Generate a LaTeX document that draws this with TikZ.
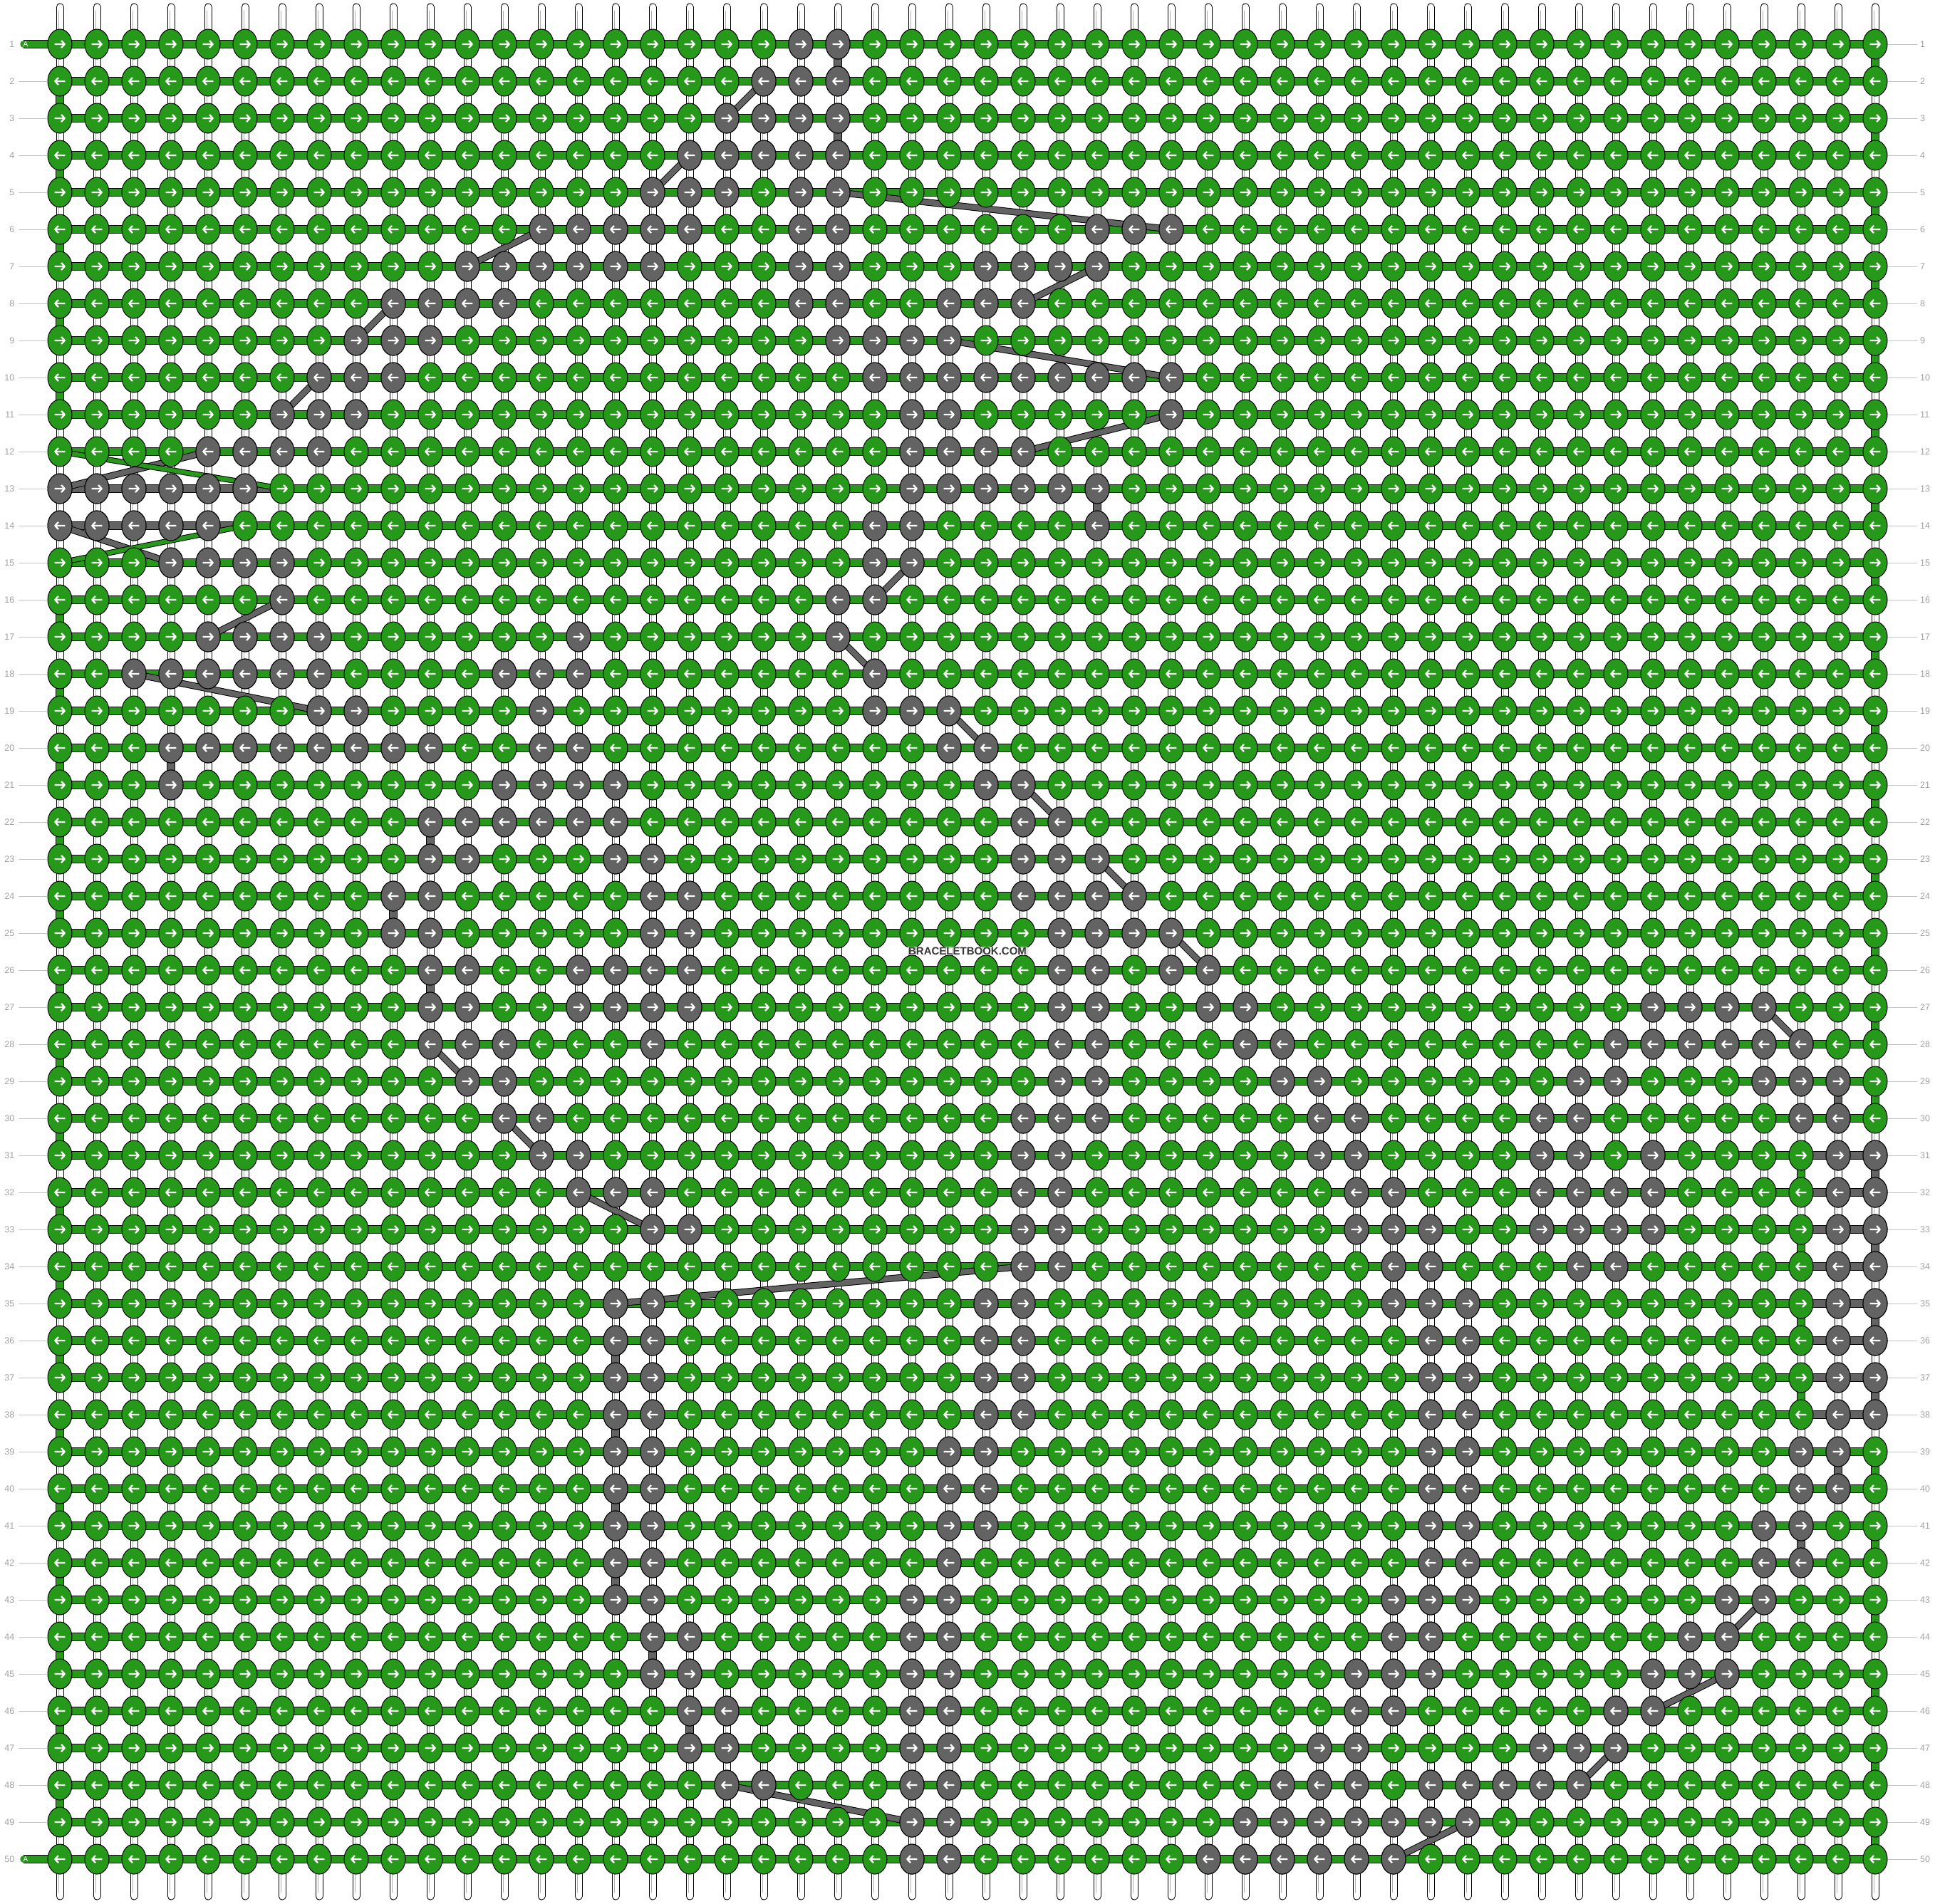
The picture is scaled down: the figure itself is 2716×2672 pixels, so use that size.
\documentclass[tikz,border=0pt]{standalone}
\usepackage{fontspec}
\setmainfont{Liberation Sans}
\usetikzlibrary{calc}

\definecolor{knotgreen}{RGB}{38,153,26}
\definecolor{knotgray}{RGB}{99,99,99}
\definecolor{numgray}{RGB}{160,160,160}
\definecolor{rulegray}{RGB}{195,195,195}
\definecolor{stringgray}{RGB}{175,175,175}
\definecolor{brandgray}{RGB}{55,55,55}

\begin{document}
\begin{tikzpicture}[x=1pt,y=-1pt,
    greenknot/.style={fill=knotgreen,draw=black,line width=1pt},
    grayknot/.style={fill=knotgray,draw=black,line width=1pt},
    arrowline/.style={draw=white,line width=2.3pt,line join=round},
    greenthread/.style={line width=9.5pt,draw=knotgreen,preaction={draw=black,line width=11.5pt}},
    graythread/.style={line width=9.5pt,draw=knotgray,preaction={draw=black,line width=11.5pt}},
    grayband/.style={line width=7.5pt,draw=knotgray,preaction={draw=black,line width=9.5pt}},
    greenband/.style={line width=6pt,draw=knotgreen,preaction={draw=black,line width=8pt}},
    rownum/.style={inner sep=0pt,text=numgray,font=\fontsize{12.5}{12.5}\selectfont},
    alabel/.style={inner sep=0pt,text=white,font=\fontsize{10}{10}\selectfont},
    numline/.style={draw=rulegray,line width=1pt},
    brand/.style={fill=white,fill opacity=0.7,text opacity=1,text=brandgray,inner sep=1pt,font=\bfseries\fontsize{15}{15}\selectfont}]
    \useasboundingbox (0,0) rectangle (2716,2672);

    % one unit = one knot: (column,row)
    \begin{scope}[x=52pt,y=-52pt,shift={(32pt,-10pt)}]
    % vertical strings
    \draw[line width=11pt,line cap=round] foreach \c in {1,...,50} {(\c,0) -- (\c,51)};
    \draw[white,line width=9pt,line cap=round] foreach \c in {1,...,50} {(\c,0) -- (\c,51)};
    \draw[stringgray,line width=4.6pt] foreach \c in {1,...,50} {(\c,0.1) -- (\c,50.9)};
    \draw[white,line width=3pt] foreach \c in {1,...,50} {(\c,0.1) -- (\c,50.9)};

    % horizontal thread
    \draw[greenthread] foreach \r in {1,...,50} {(1,\r) -- (50,\r)};
    \foreach \r/\ca/\cb in {13/1/7,14/1/6,31/48/50,32/48/50,33/48/50,34/48/50,35/48/50,36/48/50,37/48/50,38/48/50}
    \draw[graythread] (\ca,\r) -- (\cb,\r);

    \draw[greenthread] foreach \r in {1,3,...,29} {(50,\r) -- ++(0,1)};
    \draw[greenthread] foreach \r in {39,41,...,49} {(50,\r) -- ++(0,1)};
    \draw[greenthread] foreach \r in {31,33,35,37} {(48,\r) -- ++(0,1)};
    \draw[greenthread] foreach \r in {2,4,...,10} {(1,\r) -- ++(0,1)};
    \draw[greenthread] foreach \r in {16,18,...,48} {(1,\r) -- ++(0,1)};

    \foreach \c/\r in {22/1,22/3,29/13,4/20,11/22,10/24,11/26,49/29,50/31,50/33,50/35,16/36,50/37,16/38,49/39,16/40,48/41,16/42,17/44,18/46}
    \draw[graythread] (\c,\r) -- ++(0,1);

    % carried thread
    \foreach \ra/\ca/\rb/\cb in {2/20/3/19,4/18/5/17,5/22/6/31,6/14/7/12,7/29/8/27,8/10/9/9,9/25/10/31,10/8/11/7,11/31/12/27,12/5/13/1,14/1/15/4,15/24/16/23,16/7/17/5,17/22/18/23,18/3/19/8,19/25/20/26,21/27/22/28,23/29/24/30,25/31/26/32,27/47/28/48,28/11/29/12,30/13/31/14,32/15/33/17,34/27/35/16,43/47/44/46,45/46/46/44,47/43/48/42,48/19/49/24,49/39/50/37}
    \draw[grayband] (\ca,\ra) -- (\cb,\rb);
    \draw[greenband] (1,12) -- (7,13);
    \draw[greenband] (1,15) -- (6,14);

    \draw[greenthread,line cap=round] (0.0192,1) -- (1,1);
    \draw[greenthread,line cap=round] (0.0192,50) -- (1,50);
    \node[alabel] (a-top) at (0.077,1) {A};
    \node[alabel] (a-bot) at (0.077,50) {A};

    % knots
    \foreach \r in {1,...,50}
    \filldraw[greenknot] foreach \c in {1,...,50} {(\c,\r) ellipse [x radius=17pt,y radius=21pt]};

    \foreach \r/\cols in {1/{21,22},2/{20,21,22},3/{19,20,21,22},4/{18,19,20,21,22},5/{17,18,19,21,22},
      6/{14,15,16,17,18,21,22,29,30,31},7/{12,13,14,15,16,17,21,22,26,27,28,29},8/{10,11,12,13,21,22,25,26,27},
      9/{9,10,11,22,23,24,25},10/{8,9,10,23,24,25,26,27,28,29,30,31},11/{7,8,9,24,25,31},12/{5,6,7,8,24,25,26,27},
      13/{1,2,3,4,5,6,24,25,26,27,28,29},14/{1,2,3,4,5,23,24,29},15/{4,5,6,7,23,24},16/{7,22,23},17/{5,6,7,8,15,22},
      18/{3,4,5,6,7,8,13,14,15,23},19/{8,9,14,23,24,25},20/{4,5,6,7,8,9,10,11,14,15,25,26},21/{4,13,14,15,16,26,27},
      22/{11,12,13,14,15,16,27,28},23/{11,12,16,17,27,28,29},24/{10,11,17,18,27,28,29,30},25/{10,11,17,18,28,29,30,31},
      26/{11,12,15,16,17,18,28,29,31,32},27/{11,12,15,16,17,18,28,29,32,33,44,45,46,47},
      28/{11,12,13,17,28,29,33,34,43,44,45,46,47,48},29/{12,13,28,29,34,35,42,43,47,48,49},
      30/{13,14,27,28,29,35,36,41,42,48,49},31/{14,15,27,28,35,36,41,42,44,49,50},
      32/{15,16,17,27,28,36,37,41,42,43,44,49,50},33/{17,18,27,28,36,37,38,41,42,43,44,49,50},
      34/{27,28,37,38,42,43,49,50},35/{16,17,26,27,37,38,39,49,50},36/{16,17,26,27,38,39,49,50},
      37/{16,17,26,27,38,39,49,50},38/{16,17,26,27,38,39,49,50},39/{16,17,25,26,38,39,48,49},
      40/{16,17,25,26,38,39,48,49},41/{16,17,25,26,38,39,47,48},42/{16,17,25,38,39,47,48},
      43/{16,17,24,25,37,38,39,46,47},44/{17,18,24,25,37,38,45,46},45/{17,18,24,25,36,37,38,44,45,46},
      46/{18,19,24,25,36,37,43,44},47/{18,19,24,25,35,36,41,42,43},48/{19,20,24,25,34,35,36,38,39,40,41,42},
      49/{24,25,33,34,35,36,37,38,39},50/{24,25,32,33,34,35,36,37}}
    \filldraw[grayknot] foreach \c in \cols {(\c,\r) ellipse [x radius=17pt,y radius=21pt]};

    % knot arrows
    \foreach \r in {1,3,...,49}
    \draw[arrowline] foreach \c in {1,...,50} {(\c,\r) ++(-7.3pt,0pt) -- ++(14pt,0pt) (\c,\r) ++(2pt,5pt) -- ++(4.8pt,-5pt) -- ++(-4.8pt,-5pt)};
    \foreach \r in {2,4,...,50}
    \draw[arrowline] foreach \c in {1,...,50} {(\c,\r) ++(7.3pt,0pt) -- ++(-14pt,0pt) (\c,\r) ++(-2pt,5pt) -- ++(-4.8pt,-5pt) -- ++(4.8pt,-5pt)};
    \end{scope}

    % row numbers
    \foreach \r in {1,...,50} {
    \node[rownum,anchor=east] (ln-\r) at (20.5,{62+(\r-1)*52}) {\r};
    \node[rownum,anchor=west] (rn-\r) at (2695,{62+(\r-1)*52}) {\r};
    \draw[numline] (2649.5,{62+(\r-1)*52}) -- ([xshift=-4pt]rn-\r.west);
    }
    \foreach \r in {2,...,49}
    \draw[numline] ([xshift=5.5pt]ln-\r.east) -- (66.5,{62+(\r-1)*52});

    \node[brand] (site) at (1358,1335) {BRACELETBOOK.COM};
\end{tikzpicture}
\end{document}
